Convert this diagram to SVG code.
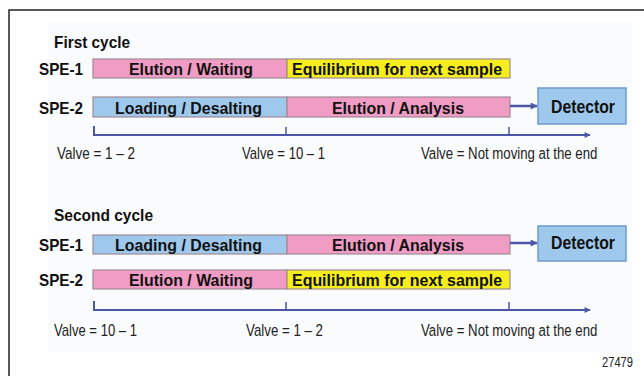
<svg xmlns="http://www.w3.org/2000/svg" width="644" height="376" viewBox="0 0 644 376">
  <defs>
    <marker id="arrow" viewBox="0 0 10 10" refX="9" refY="5" markerWidth="8" markerHeight="6" orient="auto" markerUnits="userSpaceOnUse">
      <path d="M0,0 L10,5 L0,10 z" fill="#4a56a6"/>
    </marker>
    <marker id="arrowS" viewBox="0 0 10 10" refX="9" refY="5" markerWidth="10" markerHeight="7" orient="auto" markerUnits="userSpaceOnUse">
      <path d="M0,0 L10,5 L0,10 z" fill="#4a56a6"/>
    </marker>
  </defs>
  <style>
    .frame { fill: #ffffff; stroke: #222222; stroke-width: 1.5; }
    .panel { fill: #fafbfc; }
    .bar { stroke: #a08a96; stroke-width: 1.2; }
    .pink { fill: #f09cc4; }
    .blue { fill: #9ec8ec; }
    .yellow { fill: #f6ee1c; }
    .det { fill: #9ec8ec; stroke: #6e9bcc; stroke-width: 1.5; }
    .lbl { font-family: "Liberation Sans", Arial, sans-serif; font-weight: bold; font-size: 17px; fill: #111111; }
    .barlbl { font-family: "Liberation Sans", Arial, sans-serif; font-weight: bold; font-size: 17px; fill: #111111; text-anchor: middle; }
    .detlbl { font-family: "Liberation Sans", Arial, sans-serif; font-weight: bold; font-size: 18px; fill: #111111; text-anchor: middle; }
    .valve { font-family: "Liberation Sans", Arial, sans-serif; font-size: 17px; fill: #222222; }
    .num { font-family: "Liberation Sans", Arial, sans-serif; font-size: 15px; fill: #222222; text-anchor: end; }
    .axis { fill: none; stroke: #4a56a6; stroke-width: 2; }
    .tick { stroke: #4a56a6; stroke-width: 1.5; }
    .flow { stroke: #4a56a6; stroke-width: 2.5; }
  </style>

  <!-- outer frame and light panel -->
  <rect class="frame" x="9" y="10" width="640" height="372"/>
  <rect class="panel" x="48" y="22" width="584" height="330"/>

  <!-- ===== First cycle ===== -->
  <g id="first-cycle-title">
    <text class="lbl" x="54" y="48" textLength="76" lengthAdjust="spacingAndGlyphs">First cycle</text>
  </g>
  <g id="c1-spe1-label"><text class="lbl" x="39" y="75" textLength="44" lengthAdjust="spacingAndGlyphs">SPE-1</text></g>
  <g id="c1-spe2-label"><text class="lbl" x="39" y="114" textLength="44" lengthAdjust="spacingAndGlyphs">SPE-2</text></g>

  <g id="c1-spe1-elution">
    <rect class="bar pink" x="93" y="59" width="194" height="19"/>
    <text class="barlbl" x="191" y="75" textLength="124" lengthAdjust="spacingAndGlyphs">Elution / Waiting</text>
  </g>
  <g id="c1-spe1-equilibrium">
    <rect class="bar yellow" x="287" y="59" width="223" height="19"/>
    <text class="barlbl" x="397" y="75" textLength="210" lengthAdjust="spacingAndGlyphs">Equilibrium for next sample</text>
  </g>
  <g id="c1-spe2-loading">
    <rect class="bar blue" x="93" y="97" width="194" height="20"/>
    <text class="barlbl" x="188.5" y="114" textLength="147" lengthAdjust="spacingAndGlyphs">Loading / Desalting</text>
  </g>
  <g id="c1-spe2-analysis">
    <rect class="bar pink" x="287" y="97" width="223" height="20"/>
    <text class="barlbl" x="398" y="114" textLength="132" lengthAdjust="spacingAndGlyphs">Elution / Analysis</text>
  </g>
  <g id="c1-detector">
    <rect class="det" x="538" y="88" width="88" height="36"/>
    <text class="detlbl" x="583" y="113" textLength="64" lengthAdjust="spacingAndGlyphs">Detector</text>
  </g>

  <g id="c1-valves">
    <text class="valve" x="57" y="159" textLength="78" lengthAdjust="spacingAndGlyphs">Valve = 1 – 2</text>
    <text class="valve" x="242" y="159" textLength="83" lengthAdjust="spacingAndGlyphs">Valve = 10 – 1</text>
    <text class="valve" transform="translate(421,159) scale(0.77,1)" x="0" y="0" textLength="229" lengthAdjust="spacingAndGlyphs">Valve = Not moving at the end</text>
  </g>

  <!-- ===== Second cycle ===== -->
  <g id="second-cycle-title">
    <text class="lbl" x="54" y="221" textLength="99" lengthAdjust="spacingAndGlyphs">Second cycle</text>
  </g>
  <g id="c2-spe1-label"><text class="lbl" x="39" y="251" textLength="44" lengthAdjust="spacingAndGlyphs">SPE-1</text></g>
  <g id="c2-spe2-label"><text class="lbl" x="39" y="286" textLength="44" lengthAdjust="spacingAndGlyphs">SPE-2</text></g>

  <g id="c2-spe1-loading">
    <rect class="bar blue" x="93" y="235" width="194" height="19"/>
    <text class="barlbl" x="188.5" y="251" textLength="147" lengthAdjust="spacingAndGlyphs">Loading / Desalting</text>
  </g>
  <g id="c2-spe1-analysis">
    <rect class="bar pink" x="287" y="235" width="223" height="19"/>
    <text class="barlbl" x="398" y="251" textLength="132" lengthAdjust="spacingAndGlyphs">Elution / Analysis</text>
  </g>
  <g id="c2-spe2-elution">
    <rect class="bar pink" x="93" y="270" width="194" height="19"/>
    <text class="barlbl" x="191" y="286" textLength="124" lengthAdjust="spacingAndGlyphs">Elution / Waiting</text>
  </g>
  <g id="c2-spe2-equilibrium">
    <rect class="bar yellow" x="287" y="270" width="223" height="19"/>
    <text class="barlbl" x="397" y="286" textLength="210" lengthAdjust="spacingAndGlyphs">Equilibrium for next sample</text>
  </g>
  <g id="c2-detector">
    <rect class="det" x="538" y="226" width="88" height="35"/>
    <text class="detlbl" x="583" y="249" textLength="64" lengthAdjust="spacingAndGlyphs">Detector</text>
  </g>

  <g id="c2-valves">
    <text class="valve" x="54" y="336" textLength="83" lengthAdjust="spacingAndGlyphs">Valve = 10 – 1</text>
    <text class="valve" x="246" y="336" textLength="77" lengthAdjust="spacingAndGlyphs">Valve = 1 – 2</text>
    <text class="valve" transform="translate(421,336) scale(0.77,1)" x="0" y="0" textLength="229" lengthAdjust="spacingAndGlyphs">Valve = Not moving at the end</text>
  </g>

  <!-- connectors: flow arrows and time axes -->
  <g id="connectors">
    <line class="flow" x1="510" y1="106" x2="537" y2="106" marker-end="url(#arrowS)"/>
    <line class="flow" x1="510" y1="243" x2="537" y2="243" marker-end="url(#arrowS)"/>

    <path class="axis" d="M94,126 V135 H590" marker-end="url(#arrow)"/>
    <line class="tick" x1="286" y1="127" x2="286" y2="135"/>
    <line class="tick" x1="509" y1="127" x2="509" y2="135"/>

    <path class="axis" d="M94,301 V310 H590" marker-end="url(#arrow)"/>
    <line class="tick" x1="286" y1="302" x2="286" y2="310"/>
    <line class="tick" x1="509" y1="302" x2="509" y2="310"/>
  </g>

  <g id="figure-number">
    <text class="num" x="633" y="367" textLength="31" lengthAdjust="spacingAndGlyphs">27479</text>
  </g>
</svg>
